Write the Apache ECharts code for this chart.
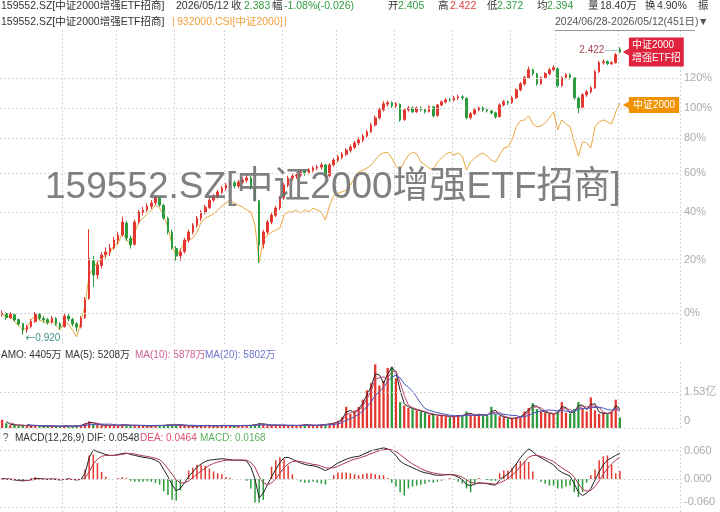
<!DOCTYPE html>
<html><head><meta charset="utf-8">
<script src="https://cdn.jsdelivr.net/npm/echarts@6/dist/echarts.min.js"></script>
<style>html,body{margin:0;padding:0;background:#fff}#c{width:720px;height:512px}</style>
</head><body><div id="c"></div>
<script>
// ETF 159552.SZ candles, each row = [open, close, low, high]
const kline = [
[0.985,0.990,0.978,0.998],[0.988,0.975,0.968,0.992],[0.974,0.986,0.970,0.992],[0.984,0.967,0.962,0.988],[0.968,0.954,0.948,0.972],
[0.955,0.935,0.920,0.958],[0.936,0.945,0.926,0.952],[0.946,0.962,0.940,0.970],[0.962,0.986,0.958,0.994],[0.985,0.973,0.966,0.990],
[0.972,0.967,0.958,0.980],[0.968,0.960,0.952,0.974],[0.960,0.973,0.955,0.980],[0.972,0.954,0.948,0.976],[0.955,0.944,0.936,0.960],
[0.946,0.980,0.942,0.988],[0.980,0.970,0.962,0.990],[0.969,0.954,0.946,0.974],[0.955,0.944,0.930,0.960],[0.945,0.973,0.940,0.980],
[0.975,1.034,0.970,1.045],[1.040,1.191,1.035,1.313],[1.180,1.125,1.081,1.200],[1.125,1.164,1.110,1.180],[1.162,1.204,1.150,1.215],
[1.205,1.216,1.190,1.235],[1.215,1.232,1.200,1.250],[1.232,1.266,1.225,1.280],[1.265,1.287,1.250,1.300],[1.288,1.345,1.280,1.370],
[1.340,1.274,1.262,1.350],[1.272,1.245,1.230,1.285],[1.248,1.345,1.242,1.355],[1.345,1.391,1.335,1.400],[1.390,1.400,1.375,1.415],
[1.400,1.419,1.390,1.432],[1.418,1.434,1.405,1.448],[1.435,1.458,1.425,1.470],[1.458,1.424,1.415,1.465],[1.422,1.363,1.355,1.430],
[1.362,1.300,1.290,1.370],[1.300,1.232,1.225,1.310],[1.230,1.200,1.180,1.240],[1.200,1.216,1.180,1.230],[1.218,1.266,1.210,1.275],
[1.265,1.300,1.255,1.310],[1.300,1.331,1.290,1.340],[1.330,1.363,1.320,1.372],[1.362,1.391,1.350,1.400],[1.390,1.414,1.380,1.425],
[1.412,1.448,1.405,1.458],[1.448,1.468,1.438,1.478],[1.466,1.488,1.455,1.498],[1.486,1.508,1.478,1.518],[1.508,1.523,1.495,1.535],
[1.522,1.533,1.510,1.545],[1.535,1.518,1.505,1.545],[1.518,1.539,1.508,1.550],[1.538,1.549,1.528,1.562],[1.548,1.560,1.535,1.576],
[1.560,1.508,1.500,1.570],[1.506,1.448,1.440,1.512],[1.445,1.245,1.171,1.450],[1.250,1.300,1.230,1.310],[1.300,1.345,1.290,1.355],
[1.345,1.377,1.335,1.388],[1.376,1.410,1.368,1.420],[1.410,1.458,1.400,1.468],[1.458,1.523,1.450,1.535],[1.522,1.560,1.512,1.572],
[1.560,1.570,1.545,1.585],[1.570,1.576,1.555,1.590],[1.575,1.592,1.565,1.602],[1.594,1.586,1.572,1.605],[1.586,1.602,1.578,1.612],
[1.600,1.613,1.590,1.625],[1.612,1.619,1.600,1.630],[1.618,1.630,1.605,1.642],[1.630,1.570,1.560,1.635],[1.572,1.630,1.565,1.640],
[1.630,1.657,1.622,1.668],[1.656,1.674,1.645,1.685],[1.672,1.691,1.662,1.702],[1.690,1.714,1.680,1.725],[1.712,1.731,1.700,1.745],
[1.730,1.755,1.720,1.768],[1.755,1.773,1.742,1.788],[1.772,1.797,1.760,1.810],[1.796,1.822,1.785,1.835],[1.822,1.865,1.815,1.878],
[1.865,1.910,1.855,1.925],[1.910,1.962,1.900,1.975],[1.962,2.002,1.950,2.020],[2.000,2.009,1.985,2.025],[2.010,1.988,1.975,2.020],
[1.988,2.002,1.975,2.015],[2.000,1.897,1.885,2.005],[1.900,1.962,1.890,1.970],[1.962,1.975,1.950,1.988],[1.975,1.949,1.940,1.985],
[1.950,1.975,1.942,1.985],[1.975,1.962,1.952,1.985],[1.962,1.949,1.938,1.970],[1.950,1.982,1.945,1.992],[1.982,1.923,1.912,1.988],
[1.925,1.995,1.918,2.002],[1.995,2.016,1.985,2.025],[2.015,2.029,2.005,2.040],[2.030,2.029,2.015,2.042],[2.028,2.043,2.018,2.055],
[2.042,2.050,2.030,2.066],[2.050,2.043,2.030,2.060],[2.040,1.910,1.900,2.045],[1.912,1.936,1.900,1.948],[1.936,1.962,1.928,1.972],
[1.962,1.975,1.952,1.985],[1.975,1.962,1.950,1.985],[1.962,1.955,1.945,1.970],[1.955,1.942,1.932,1.962],[1.942,1.916,1.905,1.950],
[1.918,1.995,1.912,2.005],[1.995,2.016,1.985,2.028],[2.016,2.009,1.995,2.025],[2.010,2.043,2.002,2.055],[2.043,2.099,2.035,2.110],
[2.098,2.142,2.088,2.155],[2.140,2.187,2.130,2.200],[2.186,2.246,2.178,2.270],[2.246,2.216,2.200,2.255],[2.215,2.142,2.128,2.222],
[2.142,2.187,2.135,2.195],[2.186,2.216,2.178,2.228],[2.216,2.246,2.205,2.258],[2.246,2.261,2.235,2.280],[2.255,2.128,2.115,2.262],
[2.130,2.187,2.120,2.196],[2.186,2.209,2.175,2.220],[2.209,2.187,2.172,2.218],[2.185,2.043,2.030,2.190],[2.040,1.975,1.940,2.050],
[1.980,2.064,1.972,2.075],[2.064,2.085,2.050,2.098],[2.085,2.113,2.075,2.125],[2.113,2.231,2.105,2.245],[2.231,2.300,2.222,2.315],
[2.300,2.308,2.285,2.325],[2.308,2.293,2.280,2.318],[2.292,2.300,2.282,2.312],[2.300,2.363,2.292,2.375],[2.405,2.383,2.372,2.422]
];
// 932000.CSI (中证2000) cumulative change, %
const indexPct = [
0,-1.6,-1.0,-2.9,-4.2,-5.6,-4.9,-2.3,-1.0,-2.3,
-2.9,-3.6,-2.3,-3.9,-5.6,-2.9,-3.6,-5.6,-7.7,-2.9,
2.7,13.6,16.4,18.7,20.3,21.6,22.8,25.4,26.2,31.3,
27.9,25.8,31.3,35.8,37.7,39.6,41.4,43.8,42.4,39.1,
33.1,25.8,20.8,23.6,27.0,27.9,28.7,31.3,35.8,37.7,
38.6,39.6,41.4,43.3,44.8,46.3,44.8,43.8,42.9,41.4,
40.5,34.4,18.7,27.9,30.0,31.3,32.2,33.1,39.1,40.5,
40.5,41.4,40.0,41.4,40.5,42.4,41.4,40.5,36.8,43.8,
48.3,49.8,50.3,51.3,53.8,57.6,60.8,61.8,62.9,64.6,
67.4,70.2,71.4,71.9,68.5,64.0,61.8,66.3,70.2,71.9,
70.8,66.3,64.6,62.9,61.8,66.3,68.5,70.8,71.9,70.2,
71.4,69.6,61.8,66.3,68.5,70.2,71.4,69.6,67.4,66.3,
70.2,74.3,74.9,79.1,87.2,91.0,91.6,94.2,89.0,87.2,
87.8,89.7,92.9,96.8,85.3,91.6,89.0,87.2,77.9,69.6,
77.9,77.3,74.3,87.2,90.3,91.6,90.3,89.0,96.8,102.8
];
// turnover amount (亿)
const amount = [
0.35,0.2,0.12,0.15,0.1,0.12,0.08,0.1,0.12,0.08,
0.08,0.1,0.07,0.06,0.08,0.1,0.07,0.08,0.1,0.12,
0.2,0.28,0.18,0.15,0.12,0.1,0.12,0.1,0.12,0.14,
0.12,0.1,0.12,0.1,0.1,0.08,0.1,0.12,0.1,0.12,
0.14,0.12,0.15,0.12,0.1,0.08,0.1,0.08,0.1,0.12,
0.1,0.08,0.1,0.12,0.1,0.08,0.1,0.1,0.12,0.1,
0.12,0.15,0.2,0.15,0.12,0.1,0.12,0.1,0.12,0.1,
0.12,0.1,0.12,0.15,0.12,0.1,0.12,0.14,0.16,0.18,
0.22,0.3,0.45,0.9,0.6,0.7,0.9,1.2,1.6,1.9,
2.7,1.8,2.0,2.55,2.6,2.1,1.1,0.95,0.85,0.8,
0.75,0.7,0.65,0.55,0.6,0.5,0.55,0.5,0.45,0.5,
0.55,0.5,0.7,0.55,0.5,0.6,0.55,0.5,0.9,0.6,
0.5,0.45,0.4,0.4,0.45,0.5,0.7,0.85,1.05,0.8,
0.7,0.65,0.6,0.6,0.7,1.1,0.65,0.6,0.8,1.1,
0.85,0.7,1.3,0.75,0.6,0.65,0.6,0.7,1.2,0.44
];
const dif = [
0.001,0,-0.001,-0.002,-0.003,-0.004,-0.003,-0.001,0.001,0.001,
0,-0.001,0,-0.001,-0.002,-0.001,0,-0.001,-0.002,-0.001,
0.012,0.045,0.062,0.058,0.055,0.052,0.05,0.05,0.052,0.054,
0.055,0.052,0.05,0.048,0.046,0.045,0.043,0.04,0.035,0.02,
0.005,-0.012,-0.025,-0.02,-0.008,0.005,0.015,0.025,0.032,0.037,
0.04,0.041,0.042,0.043,0.042,0.041,0.04,0.04,0.04,0.038,
0.025,0,-0.04,-0.03,-0.012,0.005,0.02,0.035,0.045,0.046,
0.042,0.038,0.034,0.031,0.029,0.028,0.026,0.022,0.018,0.022,
0.028,0.034,0.038,0.042,0.045,0.047,0.048,0.052,0.056,0.06,
0.062,0.064,0.066,0.064,0.058,0.05,0.038,0.032,0.028,0.024,
0.02,0.016,0.013,0.012,0.009,0.008,0.008,0.009,0.01,0.008,
0.004,-0.001,-0.012,-0.014,-0.011,-0.008,-0.009,-0.01,-0.012,-0.013,
-0.002,0.005,0.01,0.02,0.032,0.045,0.055,0.064,0.058,0.05,
0.045,0.04,0.035,0.03,0.02,0.014,0.01,0.006,-0.01,-0.028,
-0.035,-0.03,-0.02,-0.002,0.015,0.03,0.04,0.045,0.05,0.0548
];
const dea = [
0,0,0,-0.001,-0.002,-0.002,-0.003,-0.002,-0.001,0,
0,0,0,0,-0.001,-0.001,-0.001,-0.001,-0.001,-0.001,
0.002,0.015,0.032,0.042,0.048,0.05,0.05,0.05,0.051,0.052,
0.054,0.054,0.053,0.051,0.049,0.048,0.046,0.044,0.041,0.033,
0.022,0.01,-0.002,-0.008,-0.008,-0.004,0.003,0.01,0.017,0.023,
0.029,0.033,0.036,0.038,0.04,0.04,0.04,0.04,0.04,0.04,
0.035,0.025,0.005,-0.008,-0.012,-0.008,0,0.012,0.024,0.032,
0.037,0.038,0.037,0.035,0.033,0.031,0.03,0.027,0.024,0.023,
0.024,0.027,0.031,0.035,0.039,0.042,0.044,0.047,0.05,0.054,
0.057,0.06,0.062,0.063,0.062,0.058,0.052,0.045,0.038,0.032,
0.027,0.022,0.018,0.015,0.013,0.011,0.01,0.009,0.009,0.009,
0.007,0.004,-0.002,-0.007,-0.009,-0.009,-0.009,-0.009,-0.01,-0.011,
-0.008,-0.004,0.001,0.008,0.016,0.026,0.036,0.046,0.05,0.05,
0.048,0.045,0.041,0.037,0.03,0.024,0.018,0.013,0.004,-0.01,
-0.022,-0.026,-0.024,-0.016,-0.004,0.01,0.022,0.032,0.04,0.0464
];
const macdHist = [
0.002,0,-0.002,-0.002,-0.002,-0.004,0,0.002,0.004,0.002,
0,-0.002,0,-0.002,-0.002,0,0.002,0,-0.002,0,
0.02,0.05,0.052,0.034,0.015,0.005,0,0,0.002,0.004,
0.002,-0.004,-0.006,-0.006,-0.006,-0.005,-0.006,-0.008,-0.012,-0.026,
-0.034,-0.044,-0.046,-0.024,0,0.018,0.024,0.03,0.03,0.028,
0.022,0.016,0.012,0.01,0.004,0.002,0,0,0,-0.004,
-0.02,-0.05,-0.05,-0.044,0,0.026,0.04,0.046,0.042,0.028,
0.01,0,-0.006,-0.008,-0.008,-0.006,-0.008,-0.01,-0.012,-0.002,
0.008,0.014,0.014,0.014,0.012,0.01,0.008,0.01,0.012,0.012,
0.01,0.008,0.008,0.002,-0.008,-0.016,-0.028,-0.035,-0.02,-0.016,
-0.014,-0.012,-0.01,-0.006,-0.008,-0.006,-0.004,0,0.002,-0.002,
-0.006,-0.01,-0.02,-0.028,-0.01,0.002,0,-0.002,-0.004,-0.004,
0.012,0.018,0.018,0.024,0.032,0.038,0.038,0.036,0.016,0,
-0.006,-0.01,-0.014,-0.014,-0.02,-0.02,-0.016,-0.014,-0.028,-0.038,
-0.028,-0.008,0.008,0.02,0.04,0.048,0.05,0.03,0.012,0.0168
];
const pctTicks = [0, 20, 40, 60, 80, 100, 120];
const volTicks = [0, 1.53];
const macdTicks = [-0.06, 0, 0.06];
const dividerIdx = [15, 28, 42, 54, 68, 81, 95, 109, 123, 134, 149];
const maWin = [2, 3, 7];

const UP = '#e3372f', DN = '#2b9b3b', GRID = '#d6d6d6', AX = '#ababab';
const FONT = '"Liberation Sans", "Noto Sans CJK SC", sans-serif';
const CJK = '"Noto Sans CJK SC", sans-serif';
const N = kline.length, PAD = 14;
const base = kline[0][1];
const L = v => Math.log(v / base);
const cats = Array.from({length: N + PAD}, (_, i) => String(i));
const candleData = kline.map(r => r.map(L));
const idxData = indexPct.map(p => Math.log(1 + p / 100));
const volData = amount.map((v, i) => ({value: v, itemStyle: {color: kline[i][1] >= kline[i][0] ? UP : DN}}));
const histData = macdHist.map(v => ({value: v, itemStyle: {color: v >= 0 ? UP : DN}}));
function ma(arr, n) { return arr.map((_, i) => i < n - 1 ? '-' : arr.slice(i - n + 1, i + 1).reduce((a, b) => a + b, 0) / n); }
let hiI = 0, loI = 0;
kline.forEach((r, i) => { if (r[3] > kline[hiI][3]) hiI = i; if (r[2] < kline[loI][2]) loI = i; });
const last = kline[N - 1];

function xAx(g) {
  return {type: 'category', gridIndex: g, data: cats, boundaryGap: true,
    axisLine: {show: false}, axisTick: {show: false}, axisLabel: {show: false},
    splitLine: {show: true, interval: (i) => dividerIdx.indexOf(i) >= 0, lineStyle: {color: GRID, type: [2, 2], width: 1}}};
}
function mLine(list) {
  return {silent: true, symbol: 'none', animation: false,
    lineStyle: {color: GRID, type: [2, 2], width: 1},
    label: {position: 'end', distance: 4, color: AX, fontSize: 11, fontFamily: FONT, formatter: '{b}'},
    data: list};
}

const G = '#2f9c3f', R = '#e33b3b', T = '#333';
const hdr1 = [
  ['159552.SZ[中证2000增强ETF招商]', 1, T], ['2026/05/12', 176, T],
  ['收', 231, T], [last[1].toFixed(3), 244, G],
  ['幅', 272, T], ['-1.08%(-0.026)', 284, G],
  ['开', 388, T], [last[0].toFixed(3), 398, G],
  ['高', 438, T], [last[3].toFixed(3), 450, R],
  ['低', 487, T], [last[2].toFixed(3), 497, G],
  ['均', 537, T], ['2.394', 547, G],
  ['量', 588, T], ['18.40万', 600, T],
  ['换', 645, T], ['4.90%', 657, T], ['振', 698, T]
];
const OR = '#f0a33c';
const hdr2 = [
  ['159552.SZ[中证2000增强ETF招商]', 1, T], ['|', 172, OR], ['932000.CSI[中证2000]', 177, OR], ['|', 284, OR],
  ['2024/06/28-2026/05/12(451日)', 555, '#555'], ['▼', 698, '#555']
];
const hdr3 = [
  ['AMO: 4405万', 1, T], ['MA(5): 5208万', 65, T], ['MA(10): 5878万', 135, '#d0609a'], ['MA(20): 5802万', 205, '#6a74c8']
];
const hdr4 = [
  ['?', 3, '#555'], ['MACD(12,26,9)', 15, T], ['DIF: 0.0548', 87, T], ['DEA: 0.0464', 140, '#dd4f6c'], ['MACD: 0.0168', 200, '#5cb25c']
];
function txt(list, y, size) {
  return list.map(([t, x, c]) => ({type: 'text', left: x, top: y, z: 50,
    style: {text: t, fill: c, font: size + 'px ' + FONT}}));
}

const graphic = [].concat(
  txt(hdr1, 1, 10.5), txt(hdr2, 17, 10.5), txt(hdr3, 350, 10), txt(hdr4, 433, 10),
  [{type: 'rect', left: 555, top: 30, z: 50, shape: {width: 140, height: 0.8}, style: {fill: '#777'}},
   {type: 'text', left: 45, top: 169, z: 100,
    style: {text: '159552.SZ[中证2000增强ETF招商]', fill: 'rgba(110,110,110,0.88)', font: '37px ' + FONT}}]
);

const chart = echarts.init(document.getElementById('c'), null, {renderer: 'canvas'});
chart.setOption({
  animation: false,
  backgroundColor: '#fff',
  textStyle: {fontFamily: FONT},
  graphic: graphic,
  grid: [
    {left: 0, right: 40, top: 30, height: 315},
    {left: 0, right: 40, top: 362, height: 66},
    {left: 0, right: 40, top: 446, height: 66}
  ],
  xAxis: [xAx(0), xAx(1), xAx(2)],
  yAxis: [
    {gridIndex: 0, type: 'value', min: -0.1077, max: 0.9529, show: false},
    {gridIndex: 1, type: 'value', min: 0, max: 2.8, show: false},
    {gridIndex: 2, type: 'value', min: -0.07, max: 0.07, show: false}
  ],
  series: [
    {type: 'line', name: '中证2000', xAxisIndex: 0, yAxisIndex: 0, data: idxData, showSymbol: false, z: 1,
     lineStyle: {color: '#e9a83e', width: 1}, itemStyle: {color: '#e9a83e'},
     markPoint: {silent: true, animation: false, data: [{
       coord: [cats[N - 1], idxData[N - 1]], symbol: 'triangle', symbolSize: [7, 6], symbolRotate: 90, symbolOffset: [6, 2],
       itemStyle: {color: '#f29200'},
       label: {show: true, position: 'right', distance: 0, formatter: '中证2000', color: '#fff', backgroundColor: '#f29200',
         fontSize: 10, fontFamily: FONT, padding: [2, 4, 1, 4], lineHeight: 13}}]}},
    {type: 'candlestick', name: '159552', xAxisIndex: 0, yAxisIndex: 0, data: candleData, barWidth: '50%', z: 2,
     itemStyle: {color: UP, color0: DN, borderColor: UP, borderColor0: DN, borderWidth: 1},
     markLine: mLine(pctTicks.map(p => ({yAxis: Math.log(1 + p / 100), name: p + '%'}))),
     markPoint: {silent: true, animation: false, data: [
       {coord: [cats[hiI], candleData[hiI][3]], symbol: 'circle', symbolSize: 1, itemStyle: {color: 'rgba(0,0,0,0)'},
        label: {show: true, position: 'left', distance: 1, offset: [0, 3], formatter: '{a|' + kline[hiI][3].toFixed(3) + '}{b|——}',
          rich: {a: {color: '#a8454f', fontSize: 10, fontFamily: FONT}, b: {color: '#4a9a9a', fontSize: 7}}}},
       {coord: [cats[loI], candleData[loI][2]], symbol: 'circle', symbolSize: 1, itemStyle: {color: 'rgba(0,0,0,0)'},
        label: {show: true, position: 'right', distance: 2, offset: [0, 3], formatter: '{a|←}{b|' + kline[loI][2].toFixed(3) + '}',
          rich: {a: {color: '#3f8f88', fontSize: 10, fontFamily: CJK}, b: {color: '#3f8f88', fontSize: 10, fontFamily: FONT}}}},
       {coord: [cats[N - 1], candleData[N - 1][1]], symbol: 'triangle', symbolSize: [7, 6], symbolRotate: 90, symbolOffset: [6, 0],
        itemStyle: {color: '#e0233c'},
        label: {show: true, position: 'right', distance: 0, formatter: '中证2000\n增强ETF招', color: '#fff', backgroundColor: '#e0233c',
          fontSize: 10, fontFamily: FONT, padding: [2, 3, 1, 3], lineHeight: 13}}
     ]}},
    {type: 'bar', name: 'AMO', xAxisIndex: 1, yAxisIndex: 1, data: volData, barWidth: '55%',
     markLine: mLine(volTicks.map(v => ({yAxis: v, name: v === 0 ? '0' : v + '亿', label: {offset: v === 0 ? [0, -7] : [0, 0]}})))},
    {type: 'line', name: 'MA5', xAxisIndex: 1, yAxisIndex: 1, data: ma(amount, maWin[0]), showSymbol: false, lineStyle: {color: '#222', width: 1}},
    {type: 'line', name: 'MA10', xAxisIndex: 1, yAxisIndex: 1, data: ma(amount, maWin[1]), showSymbol: false, lineStyle: {color: '#b9466f', width: 1}},
    {type: 'line', name: 'MA20', xAxisIndex: 1, yAxisIndex: 1, data: ma(amount, maWin[2]), showSymbol: false, lineStyle: {color: '#4656c4', width: 1}},
    {type: 'bar', name: 'MACD', xAxisIndex: 2, yAxisIndex: 2, data: histData, barWidth: 1.5,
     markLine: mLine(macdTicks.map(v => ({yAxis: v, name: v.toFixed(3), label: {offset: v < 0 ? [0, -5] : [0, 0]}})))},
    {type: 'line', name: 'DIF', xAxisIndex: 2, yAxisIndex: 2, data: dif, showSymbol: false, lineStyle: {color: '#222', width: 1}},
    {type: 'line', name: 'DEA', xAxisIndex: 2, yAxisIndex: 2, data: dea, showSymbol: false, lineStyle: {color: '#b0384f', width: 1}}
  ]
});
</script>
</body></html>
